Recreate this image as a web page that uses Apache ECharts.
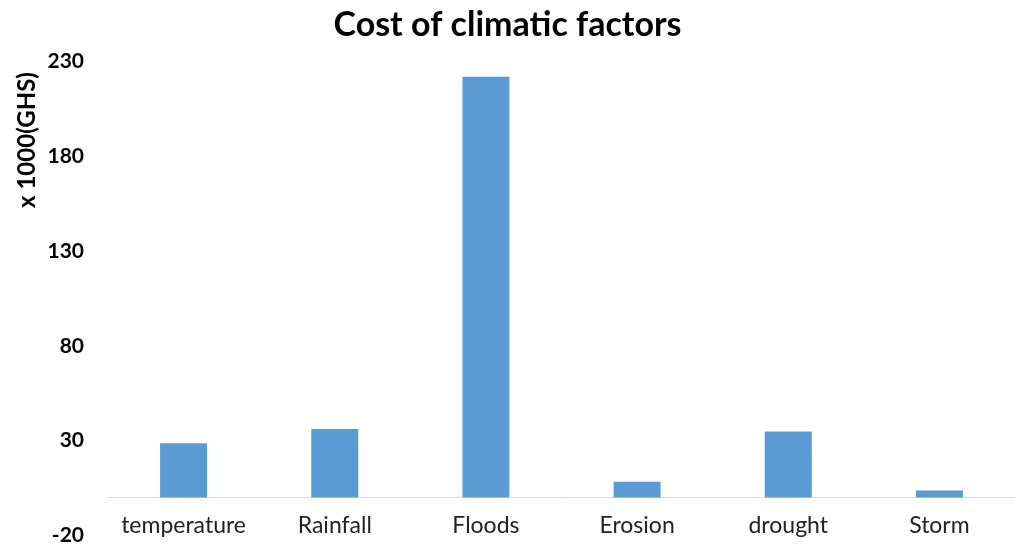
<!DOCTYPE html>
<html>
<head>
<meta charset="utf-8">
<script src="https://cdn.jsdelivr.net/npm/echarts@6/dist/echarts.min.js"></script>
<style>html,body{margin:0;padding:0;background:#fff;}#c{width:1015px;height:548px;}</style>
</head>
<body>
<div id="c"></div>
<script>
const categories = ['temperature', 'Rainfall', 'Floods', 'Erosion', 'drought', 'Storm'];
const costValues = [28.6, 36.2, 222, 8.4, 34.8, 3.7];
const yTicks = [-20, 30, 80, 130, 180, 230];
const titleText = 'Cost of climatic factors';
const yAxisTitle = 'x 1000(GHS)';

const chart = echarts.init(document.getElementById('c'));
chart.setOption({
  animation: false,
  backgroundColor: '#ffffff',
  title: {
    text: titleText,
    left: 'center',
    top: 3,
    textStyle: { fontFamily: 'Lato', fontWeight: 'bold', fontSize: 34, color: '#000' }
  },
  graphic: [{
    type: 'text',
    x: 27,
    y: 140,
    rotation: Math.PI / 2,
    style: {
      text: yAxisTitle,
      font: 'bold 24px Lato',
      fill: '#000',
      align: 'center',
      verticalAlign: 'middle'
    }
  }],
  grid: { left: 108, right: 0, top: 61.5, bottom: 12.5 },
  xAxis: {
    type: 'category',
    data: categories,
    offset: -37.9,
    axisLine: { onZero: false, lineStyle: { color: '#d9d9d9', width: 1 } },
    axisTick: { show: false },
    axisLabel: { show: true, color: '#222', fontFamily: 'Lato', fontSize: 23, margin: 16, interval: 0 }
  },
  yAxis: {
    type: 'value',
    min: yTicks[0],
    max: yTicks[yTicks.length - 1],
    interval: 50,
    axisLine: { show: false },
    axisTick: { show: false },
    splitLine: { show: false },
    axisLabel: { color: '#000', fontFamily: 'Lato', fontWeight: 'bold', fontSize: 21, margin: 24 }
  },
  series: [{
    type: 'bar',
    data: costValues,
    barWidth: 47,
    itemStyle: { color: '#5b9bd5' }
  }]
});
</script>
</body>
</html>
